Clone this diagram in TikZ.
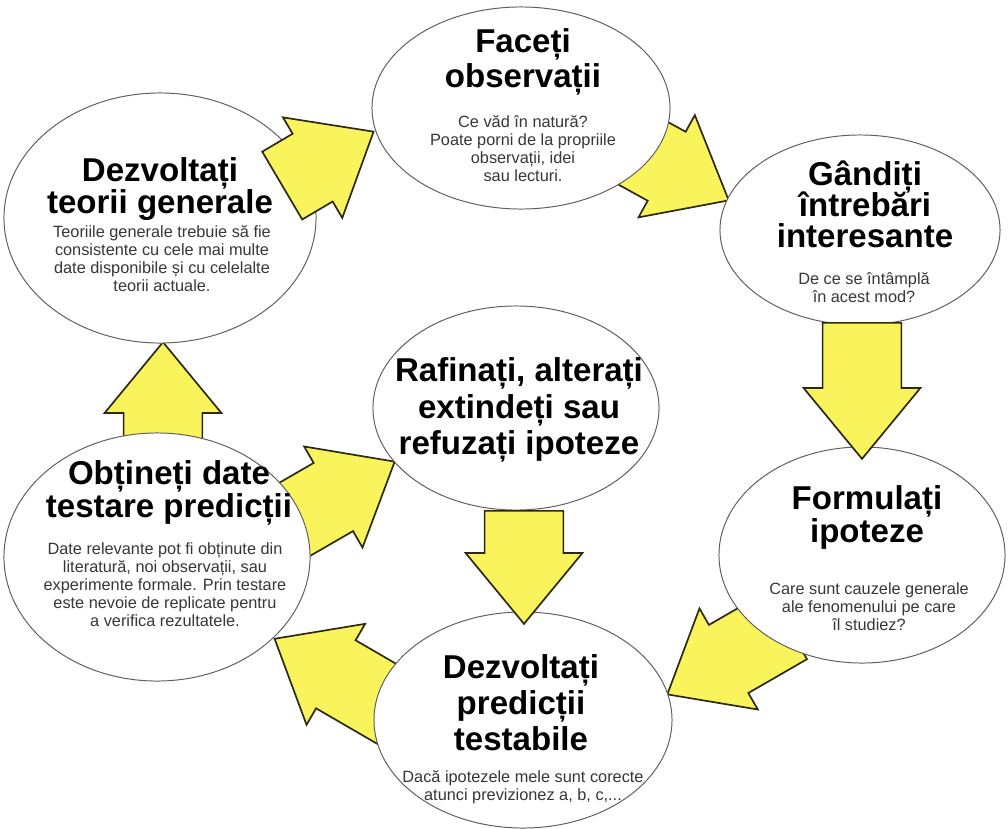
\documentclass[tikz,border=0pt]{standalone}
\usepackage{fontspec}
\setmainfont{Liberation Sans}
\usetikzlibrary{shapes.geometric,shapes.arrows,calc,positioning}
\pgfdeclarelayer{back}
\pgfsetlayers{back,main}

\definecolor{arrowyellow}{RGB}{250,244,92}
\definecolor{arrowedge}{RGB}{45,40,20}
\definecolor{bubbleedge}{RGB}{95,95,95}
\definecolor{bodygray}{RGB}{55,55,55}

\newcommand{\headfont}[1]{\fontsize{23.5}{#1}\selectfont\bfseries\lineskiplimit=-\maxdimen}
\newcommand{\bodyfont}{\fontsize{11.6}{12.8}\selectfont}

% block arrow from tail point to tip point (optional: tail pushed back by #1)
\newcommand{\cyclearrow}[4][0pt]{%
  \path let \p1=($(#3)!-#1!(#4)$), \p2=(#4), \n1={atan2(\y2-\y1,\x2-\x1)}, \n2={veclen(\x2-\x1,\y2-\y1)} in
    node[flowarrow, anchor=tail, rotate=\n1, minimum height=\n2] (#2) at (\p1) {};}

\begin{document}
\begin{tikzpicture}[x=0.025cm, y=-0.025cm,
    bubble/.style={ellipse, draw=bubbleedge, line width=0.7pt, fill=white},
    headtext/.style={align=center, text=black, inner sep=0pt},
    bodytext/.style={align=center, text=bodygray, font=\bodyfont, inner sep=0pt},
    flowarrow/.style={single arrow, draw=arrowedge, line width=1.2pt, fill=arrowyellow,
        single arrow head extend=0.475cm, single arrow tip angle=79,
        inner xsep=0pt, inner ysep=0.9625cm, minimum width=0pt}
]
    \useasboundingbox (0,0) rectangle (1008,829);

    % Bubbles
    \node[bubble, minimum width=7.45cm, minimum height=5.05cm] (obs) at (521,108) {};
    \node[bubble, minimum width=7cm, minimum height=4.75cm] (quest) at (860,230) {};
    \node[bubble, minimum width=7.15cm, minimum height=5.4cm] (hyp) at (862,555) {};
    \node[bubble, minimum width=7.45cm, minimum height=5.4cm] (pred) at (523,720) {};
    \node[bubble, minimum width=7.65cm, minimum height=6.2cm] (data) at (157,557) {};
    \node[bubble, minimum width=7.8cm, minimum height=6.25cm] (theory) at (160,218) {};
    \node[bubble, minimum width=7.15cm, minimum height=5.1cm] (refine) at (516,408) {};

    % Texts
    \node[headtext, font={\headfont{24.9pt}}] (obs-h) at ($(obs)+(2,-46)$) {Faceți\\observații};
    \node[bodytext] (obs-b) at ($(obs)+(2,41)$) {Ce văd în natură?\\Poate porni de la propriile\\observații, idei\\sau lecturi.};

    \node[headtext, font={\headfont{22pt}}] (quest-h) at ($(quest)+(5,-26)$) {Gândiți\\întrebări\\interesante};
    \node[bodytext] (quest-b) at ($(quest)+(4,58)$) {De ce se întâmplă\\în acest mod?};

    \node[headtext, font={\headfont{23.5pt}}] (hyp-h) at ($(hyp)+(5,-38)$) {Formulați\\ipoteze};
    \node[bodytext] (hyp-b) at ($(hyp)+(7,52)$) {Care sunt cauzele generale\\ale fenomenului pe care\\îl studiez?};

    \node[headtext, font={\headfont{25.6pt}}] (pred-h) at ($(pred)+(-2,-17)$) {Dezvoltați\\predicții\\testabile};
    \node[bodytext] (pred-b) at ($(pred)+(0,67)$) {Dacă ipotezele mele sunt corecte\\atunci previzionez a, b, c,...};

    \node[headtext, font={\headfont{23.5pt}}] (data-h) at ($(data)+(12,-64)$) {Obțineți date\\testare predicții};
    \node[bodytext] (data-b) at ($(data)+(8,28)$) {Date relevante pot fi obținute din\\literatură, noi observații, sau\\experimente formale. Prin testare\\este nevoie de replicate pentru\\a verifica rezultatele.};

    \node[headtext, font={\headfont{22.5pt}}] (theory-h) at ($(theory)+(0,-29)$) {Dezvoltați\\teorii generale};
    \node[bodytext] (theory-b) at ($(theory)+(2,41)$) {Teoriile generale trebuie să fie\\consistente cu cele mai multe\\date disponibile și cu celelalte\\teorii actuale.};

    \node[headtext, font={\headfont{26pt}}] (refine-h) at ($(refine)+(3,2)$) {Rafinați, alterați\\extindeți sau\\refuzați ipoteze};

    % Arrow ends
    \coordinate (a1-s) at ($(theory)+(121.5,-32)$);
    \coordinate (a1-e) at ($(obs)+(-148,24)$);
    \coordinate (a2-s) at ($(obs)+(128,48.5)$);
    \coordinate (a2-e) at ($(quest)+(-132,-30)$);
    \coordinate (a3-s) at ($(quest)+(2,92)$);
    \coordinate (a3-e) at ($(hyp)+(0,-97)$);
    \coordinate (a4-s) at ($(hyp)+(-91,79.5)$);
    \coordinate (a4-e) at ($(pred)+(145,-26)$);
    \coordinate (a5-s) at ($(pred)+(-136,-16)$);
    \coordinate (a5-e) at ($(data)+(118,82)$);
    \coordinate (a6-s) at ($(data)+(6,-120)$);
    \coordinate (a6-e) at ($(theory)+(3,125)$);
    \coordinate (a7-s) at ($(data)+(140,-39)$);
    \coordinate (a7-e) at ($(refine)+(-122,54)$);
    \coordinate (a8-s) at ($(refine)+(8,102)$);
    \coordinate (a8-e) at ($(pred)+(1,-97)$);

    % Arrows lying over the bubbles
    \cyclearrow{a1}{a1-s}{a1-e}
    \cyclearrow{a3}{a3-s}{a3-e}
    \cyclearrow{a8}{a8-s}{a8-e}

    % Arrows tucked under their source bubble
    \begin{pgfonlayer}{back}
        \cyclearrow[14pt]{a2}{a2-s}{a2-e}
        \cyclearrow[14pt]{a4}{a4-s}{a4-e}
        \cyclearrow[14pt]{a5}{a5-s}{a5-e}
        \cyclearrow[14pt]{a6}{a6-s}{a6-e}
        \cyclearrow[14pt]{a7}{a7-s}{a7-e}
    \end{pgfonlayer}
\end{tikzpicture}
\end{document}
